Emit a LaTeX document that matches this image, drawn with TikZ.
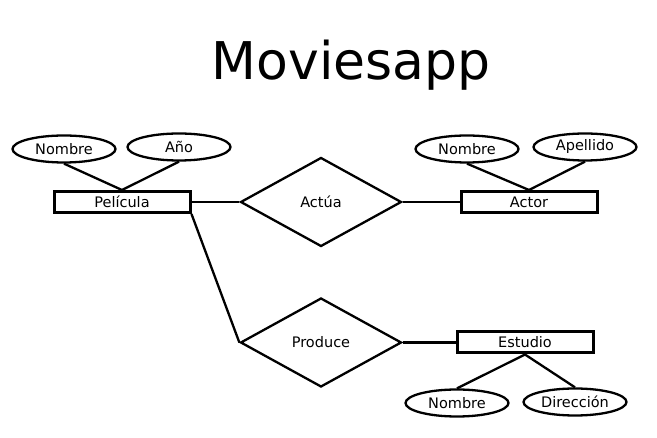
\documentclass[tikz,border=0pt]{standalone}
\usepackage{fontspec}
\setmainfont{DejaVu Sans}
\usetikzlibrary{shapes.geometric}

\tikzset{
  entidad/.style={draw,line width=3pt,minimum width=136pt,minimum height=21pt,inner sep=0pt,font=\fontsize{14.5}{16}\selectfont},
  atributo/.style={draw,ellipse,line width=2.3pt,minimum width=103pt,minimum height=27pt,inner sep=0pt,font=\fontsize{14.5}{16}\selectfont},
  relacion/.style={draw,diamond,line width=2.3pt,minimum width=161pt,minimum height=89pt,inner sep=0pt,font=\fontsize{14.5}{16}\selectfont},
  enlace/.style={line width=2.3pt}
}

\begin{document}
\begin{tikzpicture}[x=1pt,y=-1pt]
\useasboundingbox (0,0) rectangle (657,438);
\node (titulo) at (351,65) {\fontsize{52}{60}\selectfont Moviesapp};
% entidades
\node[entidad] (pelicula) at (122,202) {Película};
\node[entidad] (actor) at (529,202) {Actor};
\node[entidad] (estudio) at (525,342.5) {Estudio};
% relaciones
\node[relacion] (actua) at (321,202) {Actúa};
\node[relacion] (produce) at (321,342.5) {Produce};
% atributos
\node[atributo] (pnombre) at (64,149) {Nombre};
\node[atributo] (panio) at (179,147) {Año};
\node[atributo] (anombre) at (467,149) {Nombre};
\node[atributo] (aapellido) at (585,147) {Apellido};
\node[atributo] (enombre) at (457,403) {Nombre};
\node[atributo] (edireccion) at (575,402) {Dirección};
% enlaces
\draw[enlace] (pnombre.south)--(pelicula.north);
\draw[enlace] (panio.south)--(pelicula.north);
\draw[enlace] (anombre.south)--(actor.north);
\draw[enlace] (aapellido.south)--(actor.north);
\draw[enlace] (estudio.south)--(enombre.north);
\draw[enlace] (estudio.south)--(edireccion.north);
\draw[enlace] (pelicula.east)--(actua.west);
\draw[enlace] (actua.east)--(actor.west);
\draw[enlace] (pelicula.south east)--(produce.west);
\draw[enlace] (produce.east)--(estudio.west);
\end{tikzpicture}
\end{document}
